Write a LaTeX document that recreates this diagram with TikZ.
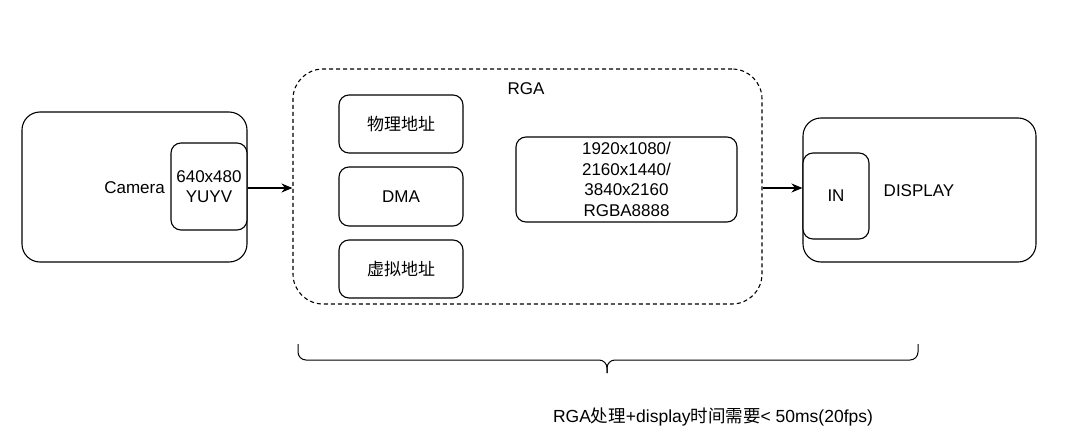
\documentclass[tikz,border=0pt]{standalone}
\usepackage{fontspec}
\setmainfont{Liberation Sans}
\newfontfamily\cjk{Noto Sans CJK SC}
\usetikzlibrary{arrows.meta}

\tikzset{
  box/.style={draw, rounded corners=10pt, line width=1.1pt, inner sep=0pt, align=center},
  bigbox/.style={box, rounded corners=18pt},
  lbl/.style={inner sep=0pt, align=center},
  arr/.style={-{Stealth[length=11pt,width=9pt]}, line width=1.1pt}
}

\begin{document}
\begin{tikzpicture}[x=1pt,y=-1pt,font=\fontsize{17}{20.5}\selectfont]
      \useasboundingbox (0,0) rectangle (1080,439);
      % camera side
      \node[bigbox, minimum width=225pt, minimum height=150pt] (cam) at (134.5,187) {};
      \node[box, minimum width=76pt, minimum height=87pt, fill=white] (yuyv) at (209,186.5) {640x480\\YUYV};
      \node[lbl, anchor=east] (camtxt) at (165,188) {Camera};
      % RGA block
      \node[bigbox, dash pattern=on 4pt off 3pt, rounded corners=30pt, minimum width=469pt, minimum height=235pt] (rga) at (527.5,186.5) {};
      \node[lbl] (rgatxt) at (526,89) {RGA};
      \node[box, minimum width=124pt, minimum height=58pt] (phys) at (401,124) {\cjk 物理地址};
      \node[box, minimum width=124pt, minimum height=59pt] (dma) at (401,196.5) {DMA};
      \node[box, minimum width=124pt, minimum height=58pt] (virt) at (401,269) {\cjk 虚拟地址};
      \node[box, minimum width=221pt, minimum height=85pt] (res) at (626.5,179.5) {1920x1080/\\2160x1440/\\3840x2160\\RGBA8888};
      % display side
      \node[bigbox, minimum width=233pt, minimum height=144pt] (disp) at (919.5,190) {};
      \node[box, minimum width=66pt, minimum height=86pt, fill=white] (in) at (836,196) {IN};
      \node[lbl] (disptxt) at (919,191) {DISPLAY};
      % links
      \draw[arr] (yuyv.east |- 0,188) -- (rga.west |- 0,188);
      \draw[arr] (rga.east |- 0,188) -- (in.west |- 0,188);
      % timing brace
      \coordinate (bl) at (298,344);
      \coordinate (br) at (918,344);
      \coordinate (tip) at (607,373);
      \draw[line width=1pt, rounded corners=8pt] (bl) -- (bl |- 0,360) -- (tip |- 0,360) -- (tip);
      \draw[line width=1pt, rounded corners=8pt] (br) -- (br |- 0,360) -- (tip |- 0,360) -- (tip);
      \node[lbl, font=\fontsize{17.5}{21}\selectfont] (note) at (713,417) {RGA{\cjk 处理}+display{\cjk 时间需要}< 50ms(20fps)};
\end{tikzpicture}
\end{document}
